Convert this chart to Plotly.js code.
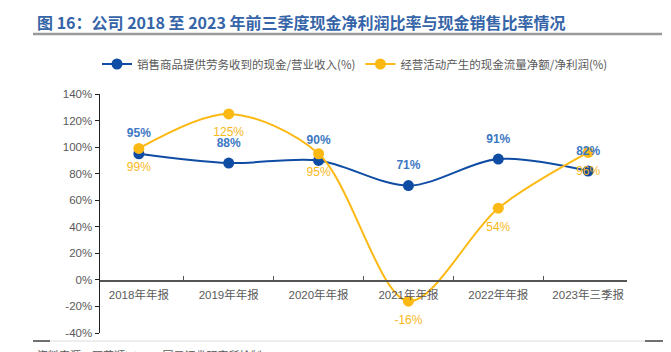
<!DOCTYPE html>
<html>
<head>
<meta charset="utf-8">
<script src="https://cdn.plot.ly/plotly-3.0.1.min.js"></script>
<style>html,body{margin:0;padding:0;background:#fff;}#chart{width:671px;height:352px;}</style>
</head>
<body>
<div id="chart"></div>
<script>
const categories = ["2018年年报","2019年年报","2020年年报","2021年年报","2022年年报","2023年三季报"];
const salesCashRatio = [95, 88, 90, 71, 91, 82];
const netProfitCashRatio = [99, 125, 95, -16, 54, 96];
const seriesNames = ["销售商品提供劳务收到的现金/营业收入(%)", "经营活动产生的现金流量净额/净利润(%)"];
const yTickVals = [-40,-20,0,20,40,60,80,100,120,140];
const yTickText = ["-40%","-20%","0%","20%","40%","60%","80%","100%","120%","140%"];
const titleText = "图 16：公司 2018 至 2023 年前三季度现金净利润比率与现金销售比率情况";
const sourceText = "资料来源：同花顺iFinD，国元证券研究所绘制";

const W = 671, H = 352;
const M = {l: 100, r: 44, t: 94, b: 19};
const pw = W - M.l - M.r, ph = H - M.t - M.b;
const px = x => (x - M.l) / pw;
const py = y => (H - M.b - y) / ph;

const BLUE = "#0F4CA3", BLUE_TXT = "#3C78C3";
const GOLD = "#FDB913", GOLD_TXT = "#F8B71B";
const CJK = "'Noto Sans CJK SC', 'Liberation Sans', sans-serif";
const NUM = "'Liberation Sans', 'Noto Sans CJK SC', sans-serif";

const pct = v => v + "%";

const traces = [
  {x: categories, y: salesCashRatio, name: seriesNames[0], type: "scatter", mode: "lines+markers",
   line: {color: BLUE, width: 2, shape: "spline", smoothing: 0.9}, marker: {color: BLUE, size: 11}},
  {x: categories, y: netProfitCashRatio, name: seriesNames[1], type: "scatter", mode: "lines+markers",
   line: {color: GOLD, width: 2, shape: "spline", smoothing: 0.9}, marker: {color: GOLD, size: 11}},
  {x: categories, y: salesCashRatio, type: "scatter", mode: "markers+text", showlegend: false, hoverinfo: "skip",
   marker: {size: 20, color: "rgba(0,0,0,0)"},
   text: salesCashRatio.map(pct), textposition: "top center",
   textfont: {color: BLUE_TXT, size: 12, family: NUM, weight: "bold"}},
  {x: categories, y: netProfitCashRatio, type: "scatter", mode: "markers+text", showlegend: false, hoverinfo: "skip",
   marker: {size: 20, color: "rgba(0,0,0,0)"},
   text: netProfitCashRatio.map(pct), textposition: "bottom center",
   textfont: {color: GOLD_TXT, size: 12, family: NUM}}
];

const layout = {
  width: W, height: H,
  margin: M,
  paper_bgcolor: "#fff", plot_bgcolor: "#fff",
  showlegend: true,
  legend: {orientation: "h", xref: "container", yref: "container", x: 97/W, y: 1 - 64/H,
           xanchor: "left", yanchor: "middle", font: {size: 11.5, color: "#595959", family: CJK},
           itemwidth: 30, tracegroupgap: 0},
  xaxis: {type: "category", anchor: "free", position: py(280), showline: true, linecolor: "#555",
          linewidth: 1.5, ticks: "inside", ticklen: 4, tickcolor: "#555", tickson: "boundaries",
          showgrid: false, zeroline: false, fixedrange: true,
          tickfont: {size: 11.5, color: "#595959", family: NUM}, ticklabelstandoff: 4},
  yaxis: {range: [-40, 140], tickmode: "array", tickvals: yTickVals, ticktext: yTickText,
          showline: true, linecolor: "#222",
          linewidth: 1.5, ticks: "outside", ticklen: 4, tickcolor: "#222", showgrid: false,
          zeroline: false, tickfont: {size: 11.5, color: "#595959", family: NUM}},
  annotations: [
    {text: "<b>" + titleText + "</b>", xref: "paper", yref: "paper", x: px(35), y: py(22),
     xanchor: "left", yanchor: "middle", showarrow: false,
     font: {size: 16, color: "#3565A8", family: CJK}},
    {text: sourceText, xref: "paper", yref: "paper", x: px(35), y: py(345),
     xanchor: "left", yanchor: "top", showarrow: false,
     font: {size: 11, color: "#595959", family: CJK}}
  ],
  shapes: [
    {type: "line", xref: "paper", yref: "paper", x0: px(33), x1: px(662), y0: py(34), y1: py(34),
     line: {color: "#9a9a9a", width: 2.5}},
    {type: "line", xref: "paper", yref: "paper", x0: px(33), x1: px(662), y0: py(341), y1: py(341),
     line: {color: "#dcdcdc", width: 1}},
    {type: "line", xref: "paper", yref: "paper", x0: px(33), x1: px(50), y0: py(341), y1: py(341),
     line: {color: "#444", width: 1.5}},
    {type: "line", xref: "paper", yref: "paper", x0: px(645), x1: px(663), y0: py(341), y1: py(341),
     line: {color: "#444", width: 1.5}}
  ]
};

Plotly.newPlot("chart", traces, layout, {displayModeBar: false, staticPlot: true});
</script>
</body>
</html>
